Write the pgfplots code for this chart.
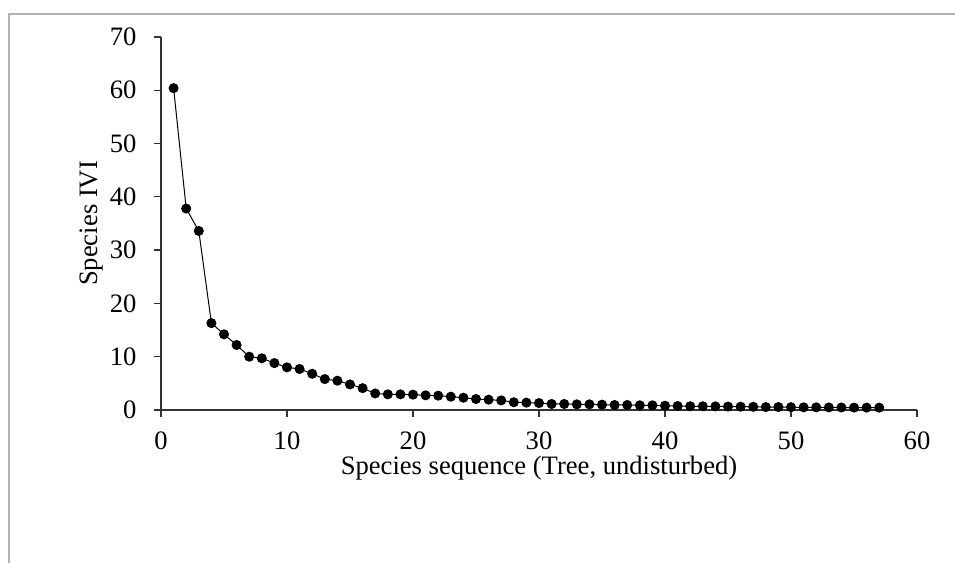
\documentclass[border=0pt]{standalone}
\usepackage{pgfplots}
\pgfplotsset{compat=1.18}
\usepackage{fontspec}
\setmainfont{Liberation Serif}

% Importance value index of each tree species, ranked
\pgfplotstableread{
seq ivi
1 60.4
2 37.8
3 33.6
4 16.3
5 14.2
6 12.2
7 10.0
8 9.7
9 8.8
10 8.0
11 7.7
12 6.8
13 5.8
14 5.5
15 4.8
16 4.1
17 3.1
18 2.94
19 2.94
20 2.88
21 2.75
22 2.69
23 2.5
24 2.3
25 2.06
26 1.94
27 1.8
28 1.45
29 1.38
30 1.3
31 1.13
32 1.13
33 1.06
34 1.06
35 1.0
36 0.94
37 0.94
38 0.88
39 0.88
40 0.8
41 0.75
42 0.7
43 0.7
44 0.68
45 0.65
46 0.62
47 0.6
48 0.55
49 0.55
50 0.52
51 0.5
52 0.5
53 0.48
54 0.47
55 0.45
56 0.45
57 0.44
}\ividata

\begin{document}
\begin{tikzpicture}[x=1bp,y=1bp]
\useasboundingbox (0,0) rectangle (955,563);
% chart area frame
\draw[line width=1.5bp, color=black!30] (9,0) -- (9,549) -- (955,549);
\begin{axis}[
  at={(161bp,153bp)}, anchor=south west,
  scale only axis, width=756bp, height=373bp,
  xmin=0, xmax=60, ymin=0, ymax=70,
  xtick={0,10,...,60}, ytick={0,10,...,70},
  axis x line*=bottom, axis y line*=left,
  axis line style={line width=1.3bp, black!80},
  tick style={line width=1.3bp, black!80},
  tick align=outside, major tick length=7bp,
  /pgf/number format/assume math mode=true,
  tick label style={font=\fontsize{26.7}{32}\selectfont},
  yticklabel style={xshift=-14bp},
  xticklabel style={yshift=-11bp},
  label style={font=\fontsize{26.7}{32}\selectfont},
  xlabel={Species sequence (Tree, undisturbed)},
  ylabel={Species IVI},
]
\addplot[black, line width=1bp, mark=*, mark size=4.5bp,
  mark options={fill=black}] table[x=seq, y=ivi] {\ividata};
\end{axis}
\end{tikzpicture}
\end{document}
